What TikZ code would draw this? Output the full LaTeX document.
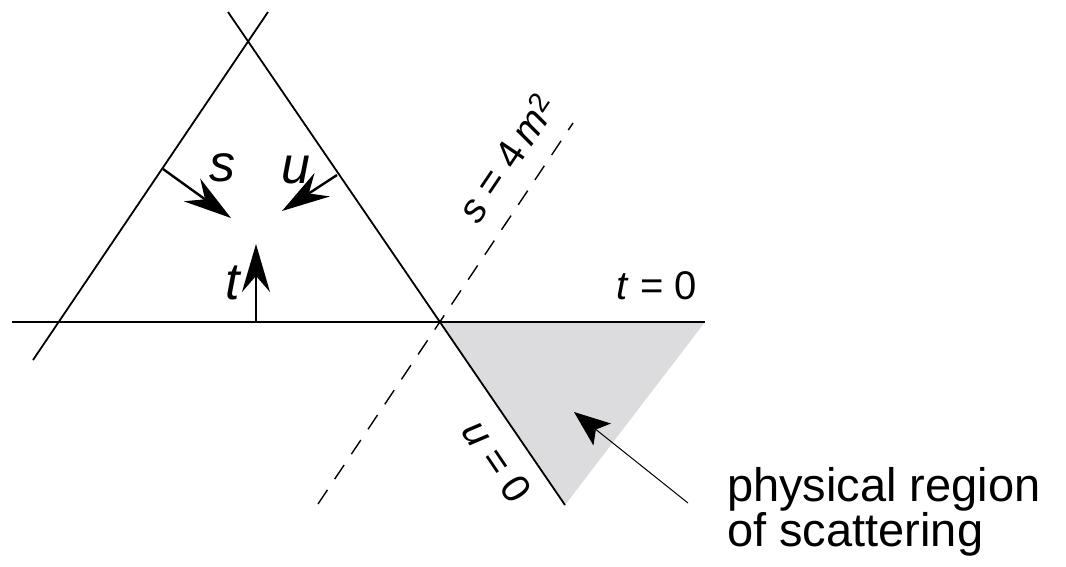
\documentclass[tikz,border=0pt]{standalone}
\usepackage{fontspec}
\setmainfont{Liberation Sans}
\usetikzlibrary{arrows.meta}
\definecolor{phys}{RGB}{220,220,222}

\begin{document}
\begin{tikzpicture}[x=1pt,y=-1pt,
  ln/.style={line width=1.8pt},
  dsh/.style={line width=1.4pt,dash pattern=on 17pt off 13pt},
  vec/.style={line width=2.4pt,-{Stealth[length=48pt,width=28pt,inset=16pt]}},
  lbl/.style={font=\fontsize{52}{56}\selectfont\itshape,inner sep=0pt},
  eqn/.style={font=\fontsize{40}{44}\selectfont,inner sep=0pt}]
  \useasboundingbox (0,0) rectangle (1066,566);
  % lines of the Mandelstam plane
  \coordinate (o) at (440,322);
  \coordinate (tl) at (12,322);   \coordinate (tr) at (705,322);
  \coordinate (l1) at (33,360);   \coordinate (l2) at (268,12);
  \coordinate (r1) at (228,12);   \coordinate (r2) at (565,505);
  \coordinate (d1) at (318,504);  \coordinate (d2) at (573,123);
  \fill[phys] (o) -- (tr) -- (r2) -- cycle;
  \draw[ln] (tl) -- (tr);
  \draw[ln] (l1) -- (l2);
  \draw[ln] (r1) -- (r2);
  \draw[dsh] (d1) -- (d2);
  % s, u, t arrows
  \coordinate (sa) at (163,169); \coordinate (sb) at (231,218);
  \coordinate (ua) at (337,175); \coordinate (ub) at (282,211);
  \coordinate (ta) at (256,322); \coordinate (tb) at (256,244);
  \draw[vec] (sa) -- (sb);
  \draw[vec] (ua) -- (ub);
  \draw[vec] (ta) -- (tb);
  \node[lbl] (s) at (222,168) {s};
  \node[lbl] (u) at (296,170) {u};
  \node[lbl] (t) at (233,283) {t};
  \node[eqn] (t0) at (657,286) {\textit{t}\;=\;0};
  \node[eqn,rotate=56] (s4) at (507,158) {\textit{s}\;=\;4\,\textit{m}\textsuperscript{2}};
  \node[eqn,rotate=-56] (u0) at (497,461) {\textit{u}\;=\;0};
  % physical region
  \node[font=\fontsize{47}{43}\selectfont,align=left,anchor=west,inner sep=0pt] (reg) at (727,512) {physical region\\of scattering};
  \coordinate (pa) at (688,503); \coordinate (pb) at (574,412);
  \draw[line width=1pt,-{Stealth[length=36pt,width=28pt,inset=8pt]}] (pa) -- (pb);
\end{tikzpicture}
\end{document}
